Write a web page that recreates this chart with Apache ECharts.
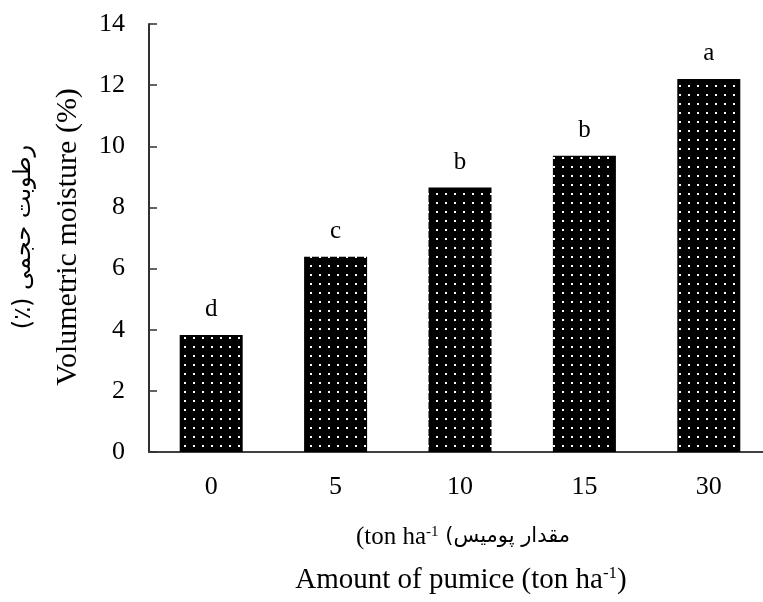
<!DOCTYPE html>
<html>
<head>
<meta charset="utf-8">
<script src="https://cdn.jsdelivr.net/npm/echarts@6/dist/echarts.min.js"></script>
<style>
  html, body { margin: 0; padding: 0; background: #fff; overflow: hidden; }
  /* chart is a bit wider than the window: the x axis runs off the right edge */
  #chart { width: 780px; height: 602px; }
</style>
</head>
<body>
<div id="chart"></div>
<script>
// pumice rate (ton/ha) and measured volumetric moisture
var categories = ['0', '5', '10', '15', '30'];
var moisture = [3.83, 6.39, 8.65, 9.69, 12.2];
var letters = ['d', 'c', 'b', 'b', 'a'];
var yMin = 0, yMax = 14, yStep = 2;

var FONT = "'Liberation Serif', 'Times New Roman', 'DejaVu Sans', serif";
var FA_FONT = "'DejaVu Sans', sans-serif";

// dotted black fill like the original bars
function dotPattern() {
  var c = document.createElement('canvas');
  c.width = 9;
  c.height = 9;
  var ctx = c.getContext('2d');
  ctx.fillStyle = '#000';
  ctx.fillRect(0, 0, 9, 9);
  ctx.fillStyle = '#fff';
  ctx.fillRect(4, 4, 2, 2);
  return c;
}

var chart = echarts.init(document.getElementById('chart'));

var option = {
  animation: false,
  backgroundColor: '#fff',
  grid: {
    left: 149,
    top: 24,
    width: 622,
    height: 428
  },
  xAxis: {
    type: 'category',
    data: categories,
    axisLine: { show: true, lineStyle: { color: '#404040', width: 2 } },
    axisTick: { show: false },
    axisLabel: {
      margin: 22,
      color: '#000',
      fontSize: 26,
      fontFamily: FONT
    },
    splitLine: { show: false }
  },
  yAxis: {
    type: 'value',
    min: yMin,
    max: yMax,
    interval: yStep,
    axisLine: { show: true, lineStyle: { color: '#303030', width: 2 } },
    axisTick: { show: true, inside: true, length: 8, lineStyle: { color: '#303030', width: 1.5 } },
    axisLabel: {
      margin: 24,
      color: '#000',
      fontSize: 26,
      fontFamily: FONT
    },
    splitLine: { show: false }
  },
  series: [
    {
      type: 'bar',
      data: moisture,
      barWidth: 63,
      itemStyle: {
        color: { image: dotPattern(), repeat: 'repeat' }
      },
      label: {
        show: true,
        position: 'top',
        distance: 13,
        color: '#000',
        fontSize: 25,
        fontFamily: FONT,
        formatter: function (p) {
          return letters[p.dataIndex];
        }
      }
    }
  ],
  graphic: [
    {
      type: 'text',
      x: 68,
      y: 237,
      rotation: Math.PI / 2,
      style: {
        text: 'Volumetric moisture (%)',
        fontSize: 30,
        fontFamily: FONT,
        fill: '#000',
        align: 'center',
        verticalAlign: 'middle'
      }
    },
    {
      type: 'text',
      x: 24,
      y: 237,
      rotation: Math.PI / 2,
      style: {
        text: '(٪) رطوبت حجمی',
        fontSize: 24,
        fontFamily: FA_FONT,
        fill: '#000',
        align: 'center',
        verticalAlign: 'middle'
      }
    },
    {
      type: 'text',
      x: 463,
      y: 537,
      style: {
        text: '{en|(ton ha}{sup|-1}{fa| (مقدار پومیس}',
        fill: '#000',
        align: 'center',
        verticalAlign: 'middle',
        rich: {
          en: { fontSize: 25, fontFamily: FONT },
          sup: { fontSize: 15, fontFamily: FONT, verticalAlign: 'top' },
          fa: { fontSize: 21, fontFamily: FA_FONT }
        }
      }
    },
    {
      type: 'text',
      x: 461,
      y: 580,
      style: {
        text: 'Amount of pumice (ton ha{sup|-1})',
        fontSize: 29,
        fontFamily: FONT,
        fill: '#000',
        align: 'center',
        verticalAlign: 'middle',
        rich: {
          sup: { fontSize: 17, fontFamily: FONT, verticalAlign: 'top' }
        }
      }
    }
  ]
};

chart.setOption(option);
</script>
</body>
</html>
